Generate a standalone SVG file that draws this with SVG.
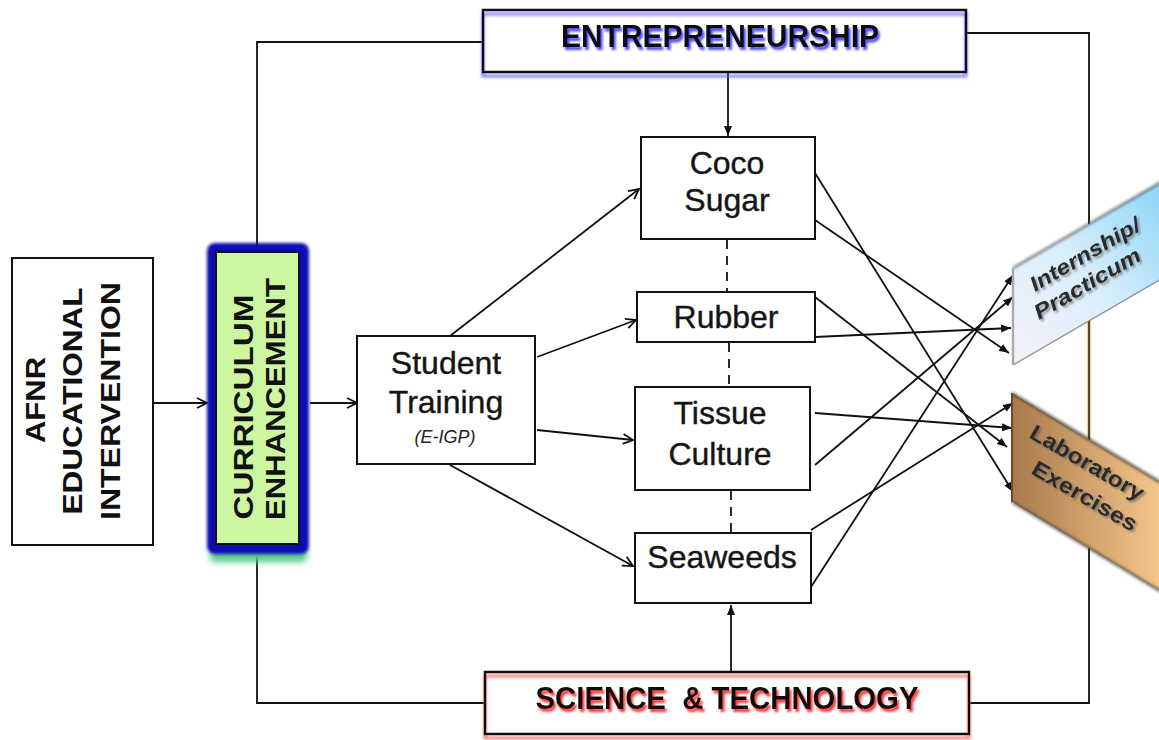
<svg xmlns="http://www.w3.org/2000/svg" width="1159" height="740" viewBox="0 0 1159 740">
<style>
.ln{stroke:#111;stroke-width:1.8;fill:none}
.dash{stroke:#111;stroke-width:1.8;fill:none;stroke-dasharray:9 7}
.box{fill:#fff;stroke:#111;stroke-width:2}
.lbl{font-family:"Liberation Sans",Arial,sans-serif;font-size:32px;fill:#151515;stroke:#151515;stroke-width:0.4;text-anchor:middle}
.hd{font-family:"Liberation Sans Narrow","Liberation Sans",Arial,sans-serif;font-weight:bold;fill:#111;text-anchor:middle}
.tag{font-family:"Liberation Sans",Arial,sans-serif;font-weight:bold;fill:#2b2b2b}
</style>
<defs>
<marker id="open" markerUnits="userSpaceOnUse" markerWidth="14" markerHeight="12" refX="11" refY="6" orient="auto">
<path d="M1,1 L11,6 L1,11" fill="none" stroke="#111" stroke-width="1.8"/>
</marker>
<marker id="solid" markerUnits="userSpaceOnUse" markerWidth="12" markerHeight="10" refX="10" refY="5" orient="auto">
<path d="M0,1 L10,5 L0,9 z" fill="#111"/>
</marker>
<filter id="glowBlue" x="-5%" y="-30%" width="110%" height="170%">
<feGaussianBlur in="SourceAlpha" stdDeviation="1.6" result="b"/>
<feOffset in="b" dy="4" result="o"/>
<feFlood flood-color="#5050f0" flood-opacity="0.85"/>
<feComposite in2="o" operator="in" result="s"/>
<feMerge><feMergeNode in="s"/><feMergeNode in="SourceGraphic"/></feMerge>
</filter>
<filter id="glowRed" x="-5%" y="-30%" width="110%" height="170%">
<feGaussianBlur in="SourceAlpha" stdDeviation="1.6" result="b"/>
<feOffset in="b" dy="4" result="o"/>
<feFlood flood-color="#ff3a3a" flood-opacity="0.8"/>
<feComposite in2="o" operator="in" result="s"/>
<feMerge><feMergeNode in="s"/><feMergeNode in="SourceGraphic"/></feMerge>
</filter>
<filter id="txtBlue" x="-5%" y="-30%" width="110%" height="170%">
<feGaussianBlur in="SourceAlpha" stdDeviation="1.3" result="b"/>
<feOffset in="b" dx="2" dy="3" result="o"/>
<feFlood flood-color="#3a3aff" flood-opacity="0.9"/>
<feComposite in2="o" operator="in" result="s"/>
<feMerge><feMergeNode in="s"/><feMergeNode in="SourceGraphic"/></feMerge>
</filter>
<filter id="txtRed" x="-5%" y="-30%" width="110%" height="170%">
<feGaussianBlur in="SourceAlpha" stdDeviation="1.3" result="b"/>
<feOffset in="b" dx="2" dy="3" result="o"/>
<feFlood flood-color="#ff2020" flood-opacity="0.9"/>
<feComposite in2="o" operator="in" result="s"/>
<feMerge><feMergeNode in="s"/><feMergeNode in="SourceGraphic"/></feMerge>
</filter>
<filter id="txtGray" x="-10%" y="-30%" width="120%" height="170%">
<feGaussianBlur in="SourceAlpha" stdDeviation="1" result="b"/>
<feOffset in="b" dx="1.5" dy="1.5" result="o"/>
<feFlood flood-color="#555" flood-opacity="0.6"/>
<feComposite in2="o" operator="in" result="s"/>
<feMerge><feMergeNode in="s"/><feMergeNode in="SourceGraphic"/></feMerge>
</filter>
<filter id="soft" x="-10%" y="-10%" width="120%" height="120%">
<feGaussianBlur stdDeviation="1.4"/>
</filter>
<filter id="haze" x="-20%" y="-50%" width="140%" height="200%">
<feGaussianBlur stdDeviation="3"/>
</filter>
<linearGradient id="gIntern" x1="0" y1="1" x2="1" y2="0">
<stop offset="0" stop-color="#f6f2fb"/>
<stop offset="0.45" stop-color="#d8eefb"/>
<stop offset="1" stop-color="#7fd0f6"/>
</linearGradient>
<linearGradient id="gLab" x1="0" y1="0" x2="1" y2="0">
<stop offset="0" stop-color="#a87a4c"/>
<stop offset="1" stop-color="#ffd193"/>
</linearGradient>
</defs>

<rect width="1159" height="740" fill="#fff"/>

<!-- connectors -->
<g id="connectors">
  <!-- outer frame -->
  <polyline class="ln" points="483,42 257,42 257,703 485,703"/>
  <polyline class="ln" points="966,33 1089,33 1089,703 969,703"/>
  <line x1="1089" y1="318" x2="1089" y2="445" stroke="#f2c660" stroke-width="4" opacity="0.8"/>
  <line x1="1089" y1="318" x2="1089" y2="445" stroke="#222" stroke-width="1.4"/>
  <!-- main flow -->
  <line class="ln" x1="153" y1="403" x2="207" y2="403" marker-end="url(#open)"/>
  <line class="ln" x1="310" y1="403" x2="357" y2="403" marker-end="url(#open)"/>
  <line class="ln" x1="450" y1="336" x2="639" y2="189" marker-end="url(#open)"/>
  <line class="ln" x1="537" y1="357" x2="636" y2="320" marker-end="url(#open)"/>
  <line class="ln" x1="537" y1="430" x2="633" y2="440" marker-end="url(#open)"/>
  <line class="ln" x1="450" y1="465" x2="633" y2="566" marker-end="url(#open)"/>
  <!-- drivers -->
  <line class="ln" x1="728" y1="72" x2="728" y2="136" marker-end="url(#solid)"/>
  <line class="ln" x1="731" y1="672" x2="731" y2="605" marker-end="url(#solid)"/>
  <!-- links between enterprises -->
  <line class="dash" x1="727" y1="240" x2="727" y2="291"/>
  <line class="dash" x1="729" y1="343" x2="729" y2="386"/>
  <line class="dash" x1="731" y1="491" x2="731" y2="532"/>
  <!-- outputs -->
  <line class="ln" x1="815" y1="173" x2="1013" y2="492" marker-end="url(#solid)"/>
  <line class="ln" x1="815" y1="220" x2="1009" y2="353" marker-end="url(#solid)"/>
  <line class="ln" x1="815" y1="297" x2="1007" y2="447" marker-end="url(#solid)"/>
  <line class="ln" x1="815" y1="337" x2="1011" y2="328" marker-end="url(#solid)"/>
  <line class="ln" x1="815" y1="413" x2="1012" y2="428" marker-end="url(#solid)"/>
  <line class="ln" x1="815" y1="465" x2="1013" y2="297" marker-end="url(#solid)"/>
  <line class="ln" x1="811" y1="530" x2="1013" y2="403" marker-end="url(#solid)"/>
  <line class="ln" x1="811" y1="587" x2="1013" y2="275" marker-end="url(#solid)"/>
</g>

<!-- top driver -->
<g id="entrepreneurship">
  <rect x="483" y="10" width="483" height="62" fill="none" stroke="#111" stroke-width="2.5" filter="url(#glowBlue)"/>
  <text class="hd" x="720" y="47" font-size="32" textLength="318" lengthAdjust="spacingAndGlyphs" filter="url(#txtBlue)">ENTREPRENEURSHIP</text>
</g>

<!-- bottom driver -->
<g id="science-technology">
  <rect x="485" y="672" width="484" height="62" fill="none" stroke="#111" stroke-width="2.5" filter="url(#glowRed)"/>
  <text class="hd" x="727" y="709" font-size="32" textLength="383" lengthAdjust="spacingAndGlyphs" style="white-space:pre" filter="url(#txtRed)">SCIENCE  &amp; TECHNOLOGY</text>
</g>

<g id="afnr">
  <rect class="box" x="12" y="258" width="141" height="287"/>
  <g class="hd" font-size="28">
    <text transform="translate(45,400) rotate(-90)" textLength="86" lengthAdjust="spacingAndGlyphs">AFNR</text>
    <text transform="translate(82,401) rotate(-90)" textLength="227" lengthAdjust="spacingAndGlyphs">EDUCATIONAL</text>
    <text transform="translate(120,401) rotate(-90)" textLength="238" lengthAdjust="spacingAndGlyphs">INTERVENTION</text>
  </g>
</g>

<g id="curriculum">
  <rect x="210" y="548" width="97" height="14" rx="5" fill="#57c98a" filter="url(#haze)"/>
  <rect x="207" y="243" width="102" height="311" rx="8" fill="#0d0db4" filter="url(#soft)"/>
  <rect x="216" y="252" width="83" height="292" fill="#cdf6a0" stroke="#111" stroke-width="2"/>
  <g class="hd" font-size="28">
    <text transform="translate(253,407) rotate(-90)" textLength="225" lengthAdjust="spacingAndGlyphs">CURRICULUM</text>
    <text transform="translate(285,399) rotate(-90)" textLength="242" lengthAdjust="spacingAndGlyphs">ENHANCEMENT</text>
  </g>
</g>

<g id="student-training">
  <rect class="box" x="357" y="336" width="178" height="128"/>
  <text class="lbl" x="446" y="374">Student</text>
  <text class="lbl" x="446" y="413">Training</text>
  <text x="445" y="443" font-family="'Liberation Sans',Arial,sans-serif" font-size="18" font-style="italic" fill="#222" text-anchor="middle">(E-IGP)</text>
</g>

<g id="coco-sugar">
  <rect class="box" x="641" y="137" width="174" height="102"/>
  <text class="lbl" x="727" y="174">Coco</text>
  <text class="lbl" x="727" y="211">Sugar</text>
</g>

<g id="rubber">
  <rect class="box" x="637" y="292" width="178" height="50"/>
  <text class="lbl" x="726" y="328">Rubber</text>
</g>

<g id="tissue-culture">
  <rect class="box" x="635" y="387" width="175" height="103"/>
  <text class="lbl" x="720" y="424">Tissue</text>
  <text class="lbl" x="720" y="465">Culture</text>
</g>

<g id="seaweeds">
  <rect class="box" x="635" y="533" width="176" height="70"/>
  <text class="lbl" x="722" y="568">Seaweeds</text>
</g>

<g id="internship">
  <polygon points="1013,268 1180,171 1180,268 1013,365" fill="url(#gIntern)"/>
  <line x1="1013" y1="268" x2="1180" y2="171" stroke="#333" stroke-width="1.6" filter="url(#soft)" opacity="0.9"/>
  <line x1="1013" y1="365" x2="1180" y2="268" stroke="#777" stroke-width="1.4" opacity="0.8"/>
  <line x1="1013" y1="268" x2="1013" y2="365" stroke="#aaa" stroke-width="2.5"/>
  <g class="tag" font-style="italic" font-size="21" filter="url(#txtGray)">
    <text transform="translate(1035,292) rotate(-30.4)" textLength="124" lengthAdjust="spacingAndGlyphs">Internship/</text>
    <text transform="translate(1039,320) rotate(-30.4)" textLength="120" lengthAdjust="spacingAndGlyphs">Practicum</text>
  </g>
</g>

<g id="laboratory">
  <polygon points="1012,393 1180,494 1180,603 1012,502" fill="url(#gLab)"/>
  <line x1="1012" y1="393" x2="1180" y2="494" stroke="#222" stroke-width="1.8" filter="url(#soft)"/>
  <line x1="1012" y1="502" x2="1180" y2="603" stroke="#333" stroke-width="1.8" filter="url(#soft)"/>
  <line x1="1012" y1="393" x2="1012" y2="502" stroke="#6b4a2a" stroke-width="2"/>
  <g class="tag" font-size="22" filter="url(#txtGray)">
    <text transform="translate(1028,437) rotate(30)" textLength="128" lengthAdjust="spacingAndGlyphs">Laboratory</text>
    <text transform="translate(1030,473) rotate(30)" textLength="118" lengthAdjust="spacingAndGlyphs">Exercises</text>
  </g>
</g>
</svg>
